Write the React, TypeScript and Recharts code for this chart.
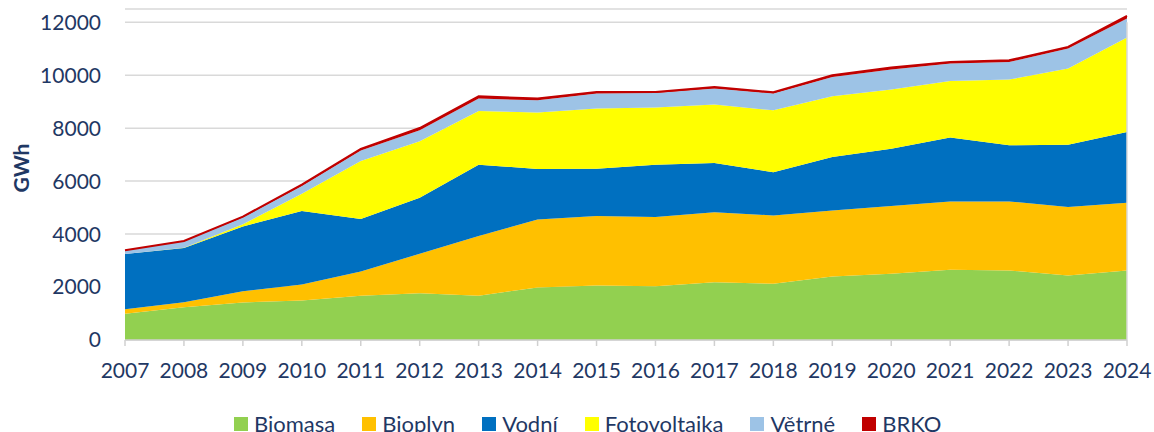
import React from 'react';
import { AreaChart, Area, XAxis, YAxis, CartesianGrid, ReferenceLine } from 'recharts';

// roky a hodnoty (GWh)
const years = ['2007', '2008', '2009', '2010', '2011', '2012', '2013', '2014', '2015', '2016', '2017', '2018', '2019', '2020', '2021', '2022', '2023', '2024'];
const biomasa = [990, 1240, 1418, 1493, 1670, 1770, 1670, 1985, 2060, 2034, 2185, 2124, 2400, 2502, 2654, 2627, 2438, 2627];
const bioplyn = [175, 190, 427, 605, 920, 1487, 2255, 2570, 2620, 2608, 2635, 2582, 2495, 2556, 2581, 2608, 2582, 2559];
const vodni = [2085, 2040, 2445, 2771, 1978, 2117, 2697, 1902, 1791, 1980, 1864, 1626, 2015, 2169, 2408, 2117, 2358, 2669];
const fotovoltaika = [2, 13, 80, 657, 2193, 2129, 2027, 2131, 2269, 2155, 2207, 2343, 2294, 2230, 2140, 2483, 2873, 3568];
const vetrne = [125, 245, 260, 290, 400, 416, 468, 465, 566, 553, 604, 631, 730, 756, 657, 665, 756, 718];
const brko = [10, 10, 30, 50, 60, 85, 85, 65, 60, 40, 60, 50, 64, 76, 60, 65, 61, 100];
const yTicks = [0, 2000, 4000, 6000, 8000, 10000, 12000];

const series = [
  { key: 'biomasa', name: 'Biomasa', color: '#92D050', values: biomasa },
  { key: 'bioplyn', name: 'Bioplyn', color: '#FFC000', values: bioplyn },
  { key: 'vodni', name: 'Vodní', color: '#0070C0', values: vodni },
  { key: 'foto', name: 'Fotovoltaika', color: '#FFFF00', values: fotovoltaika },
  { key: 'vetrne', name: 'Větrné', color: '#9DC3E6', values: vetrne },
  { key: 'brko', name: 'BRKO', color: '#C00000', values: brko },
];

const data = years.map((year, i) => {
  const row: Record<string, string | number> = { year };
  series.forEach((s) => { row[s.key] = s.values[i]; });
  return row;
});

const textColor = '#1F3864';
const font = 'Lato, "Open Sans", sans-serif';

export default function App() {
  return (
    <div style={{ position: 'absolute', left: 0, top: 0, width: 1154, height: 432, background: '#fff', fontFamily: font }}>
      <AreaChart width={1154} height={432} data={data} margin={{ top: 9, right: 27, left: 10, bottom: 52 }}>
        <CartesianGrid vertical={false} stroke="#D9D9D9" strokeWidth={1.5} />
        <XAxis
          dataKey="year"
          height={40}
          stroke="#D0D0D0"
          strokeWidth={1.5}
          tickSize={6}
          tickMargin={17}
          tick={{ fill: textColor, fontSize: 21, fontFamily: font }}
          interval={0}
        />
        <YAxis
          width={115}
          domain={[0, 12500]}
          ticks={yTicks}
          allowDataOverflow
          axisLine={false}
          tickLine={false}
          tickMargin={18}
          tick={{ fill: textColor, fontSize: 21, fontFamily: font }}
          label={() => (
            <text
              x={20}
              y={168}
              transform="rotate(-90 20 168)"
              textAnchor="middle"
              dominantBaseline="central"
              fill={textColor}
              fontSize={21}
              fontWeight="bold"
              fontFamily={font}
            >
              GWh
            </text>
          )}
        />
        {series.map((s) => (
          <Area
            key={s.key}
            type="linear"
            dataKey={s.key}
            name={s.name}
            stackId="1"
            fill={s.color}
            fillOpacity={1}
            stroke={s.key === 'brko' ? s.color : 'none'}
            strokeWidth={s.key === 'brko' ? 2 : 0}
            isAnimationActive={false}
          />
        ))}
        <ReferenceLine segment={[{ x: '2024', y: 0 }, { x: '2024', y: 12000 }]} stroke="#D9D9D9" strokeWidth={1.5} />
      </AreaChart>
      <div
        style={{
          position: 'absolute',
          top: 411,
          left: 234,
          display: 'flex',
          alignItems: 'center',
          gap: 27,
          fontSize: 22,
          lineHeight: '25px',
          color: textColor,
          whiteSpace: 'nowrap',
        }}
      >
        {series.map((s) => (
          <div key={s.key} style={{ display: 'flex', alignItems: 'center' }}>
            <span style={{ display: 'inline-block', width: 14, height: 14, background: s.color, marginRight: 6 }} />
            <span>{s.name}</span>
          </div>
        ))}
      </div>
    </div>
  );
}
